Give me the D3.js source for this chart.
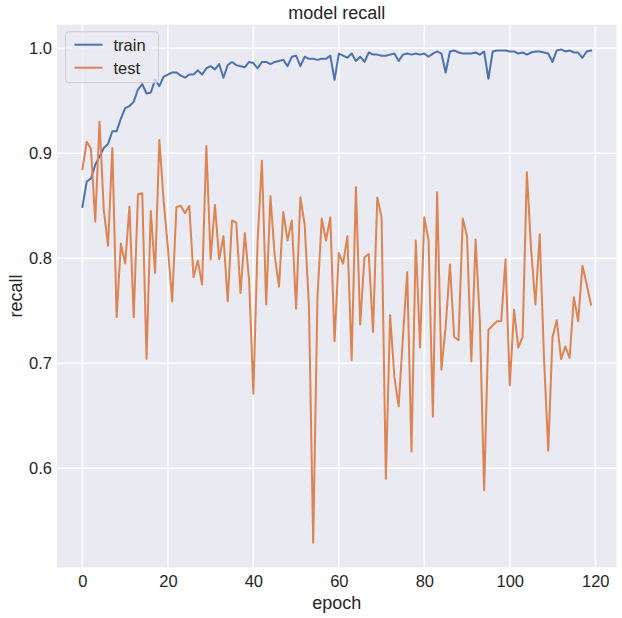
<!DOCTYPE html>
<html lang="en">
<head>
    <meta charset="UTF-8">
    <title>model recall</title>
    <script src="https://d3js.org/d3.v7.min.js"></script>
    <style>
        body {
            margin: 0;
            background: #ffffff;
        }
        svg {
            display: block;
            font-family: Arial, "Liberation Sans", sans-serif;
        }
        .axis text {
            font-size: 16.5px;
            fill: #262626;
        }
    </style>
</head>
<body>
<svg width="622" height="618"></svg>

<script>
    // epochs 0..119
    const epochs = d3.range(120);

    const xTicks = [0, 20, 40, 60, 80, 100, 120];
    const yTicks = [0.6, 0.7, 0.8, 0.9, 1.0];

    const train = [0.849,0.873,0.876,0.889,0.897,0.905,0.909,0.921,0.921,0.933,
        0.943,0.945,0.949,0.961,0.966,0.957,0.958,0.970,0.964,0.973,
        0.975,0.977,0.977,0.974,0.972,0.975,0.975,0.979,0.975,0.981,
        0.983,0.980,0.985,0.972,0.984,0.987,0.984,0.983,0.982,0.987,
        0.986,0.981,0.987,0.987,0.985,0.987,0.988,0.989,0.983,0.992,
        0.993,0.983,0.992,0.990,0.990,0.989,0.990,0.990,0.993,0.970,
        0.995,0.993,0.991,0.995,0.988,0.992,0.987,0.996,0.994,0.994,
        0.993,0.993,0.994,0.995,0.988,0.994,0.995,0.994,0.995,0.994,
        0.995,0.992,0.995,0.997,0.995,0.977,0.997,0.998,0.996,0.995,
        0.995,0.995,0.996,0.994,0.997,0.971,0.997,0.998,0.998,0.998,
        0.997,0.997,0.995,0.996,0.994,0.996,0.997,0.997,0.996,0.995,
        0.987,0.998,0.999,0.997,0.998,0.996,0.996,0.991,0.997,0.998];

    const test = [0.885,0.911,0.904,0.835,0.930,0.846,0.812,0.905,0.744,0.814,
        0.795,0.849,0.744,0.861,0.862,0.704,0.845,0.786,0.913,0.855,
        0.810,0.759,0.849,0.850,0.843,0.850,0.782,0.798,0.775,0.907,
        0.799,0.851,0.799,0.821,0.759,0.836,0.834,0.767,0.824,0.779,
        0.671,0.817,0.893,0.756,0.859,0.802,0.773,0.844,0.817,0.836,
        0.752,0.858,0.832,0.755,0.529,0.763,0.838,0.817,0.839,0.721,
        0.805,0.795,0.821,0.703,0.868,0.737,0.801,0.804,0.730,0.858,
        0.839,0.590,0.746,0.687,0.659,0.725,0.787,0.616,0.817,0.715,
        0.839,0.817,0.649,0.863,0.694,0.735,0.794,0.725,0.722,0.838,
        0.821,0.702,0.818,0.740,0.579,0.732,0.736,0.740,0.740,0.799,
        0.679,0.751,0.715,0.725,0.882,0.808,0.756,0.823,0.706,0.617,
        0.725,0.741,0.704,0.716,0.705,0.763,0.740,0.793,0.775,0.756];

    const seriesNames = ["train", "test"];
    const seriesColors = ["#4c72b0", "#dd8452"];

    // plot box
    const plotLeft = 57, plotRight = 616.4, plotTop = 24.7, plotBottom = 567.5;

    let svg = d3.select("svg");

    // matplotlib style 5% margins
    const xPad = (d3.max(epochs) - d3.min(epochs)) * 0.05;
    const allVals = train.concat(test);
    const yMin = d3.min(allVals), yMax = d3.max(allVals);
    const yPad = (yMax - yMin) * 0.05;

    const x = d3.scaleLinear()
        .domain([d3.min(epochs) - xPad, d3.max(epochs) + xPad])
        .range([plotLeft, plotRight]);
    const y = d3.scaleLinear()
        .domain([yMin - yPad, yMax + yPad])
        .range([plotBottom, plotTop]);

    // background
    svg.append("rect")
        .attr("x", plotLeft).attr("y", plotTop)
        .attr("width", plotRight - plotLeft).attr("height", plotBottom - plotTop)
        .attr("fill", "#eaeaf2");

    // grid
    svg.append("g")
        .selectAll("line")
        .data(xTicks)
        .enter().append("line")
        .attr("x1", d => x(d)).attr("x2", d => x(d))
        .attr("y1", plotTop).attr("y2", plotBottom)
        .attr("stroke", "#ffffff").attr("stroke-width", 1.5);
    svg.append("g")
        .selectAll("line")
        .data(yTicks)
        .enter().append("line")
        .attr("x1", plotLeft).attr("x2", plotRight)
        .attr("y1", d => y(d)).attr("y2", d => y(d))
        .attr("stroke", "#ffffff").attr("stroke-width", 1.5);

    // axes (no tick marks, no spines)
    const xAxis = svg.append("g")
        .attr("class", "axis")
        .attr("transform", `translate(0,${plotBottom})`)
        .call(d3.axisBottom(x).tickValues(xTicks).tickSize(0).tickPadding(8));
    const yAxis = svg.append("g")
        .attr("class", "axis")
        .attr("transform", `translate(${plotLeft},0)`)
        .call(d3.axisLeft(y).tickValues(yTicks).tickFormat(d3.format(".1f")).tickSize(0).tickPadding(5));
    xAxis.select(".domain").remove();
    yAxis.select(".domain").remove();
    svg.selectAll(".axis").attr("font-family", null).attr("font-size", null);

    // lines
    const line = d3.line()
        .x((d, i) => x(epochs[i]))
        .y(d => y(d));

    [train, test].forEach(function (vals, k) {
        svg.append("path")
            .datum(vals)
            .attr("d", line)
            .attr("fill", "none")
            .attr("stroke", seriesColors[k])
            .attr("stroke-width", 2)
            .attr("stroke-linejoin", "round")
            .attr("stroke-linecap", "square");
    });

    // title and labels
    svg.append("text")
        .attr("x", (plotLeft + plotRight) / 2).attr("y", 19)
        .attr("text-anchor", "middle")
        .attr("font-size", "18px").attr("fill", "#262626")
        .text("model recall");
    svg.append("text")
        .attr("x", (plotLeft + plotRight) / 2).attr("y", 609)
        .attr("text-anchor", "middle")
        .attr("font-size", "18px").attr("fill", "#262626")
        .text("epoch");
    svg.append("text")
        .attr("transform", `translate(22,${(plotTop + plotBottom) / 2}) rotate(-90)`)
        .attr("text-anchor", "middle")
        .attr("font-size", "18px").attr("fill", "#262626")
        .text("recall");

    // legend
    const lg = svg.append("g").attr("transform", `translate(${plotLeft + 8.5},${plotTop + 7})`);
    lg.append("rect")
        .attr("width", 93).attr("height", 51)
        .attr("rx", 3)
        .attr("fill", "#eaeaf2").attr("fill-opacity", 0.8)
        .attr("stroke", "#cccccc").attr("stroke-width", 1);
    seriesNames.forEach(function (name, k) {
        const ly = 13 + k * 23;
        lg.append("line")
            .attr("x1", 9).attr("x2", 37)
            .attr("y1", ly).attr("y2", ly)
            .attr("stroke", seriesColors[k]).attr("stroke-width", 2);
        lg.append("text")
            .attr("x", 48).attr("y", ly + 6)
            .attr("font-size", "16.5px").attr("fill", "#262626")
            .text(name);
    });
</script>
</body>
</html>
